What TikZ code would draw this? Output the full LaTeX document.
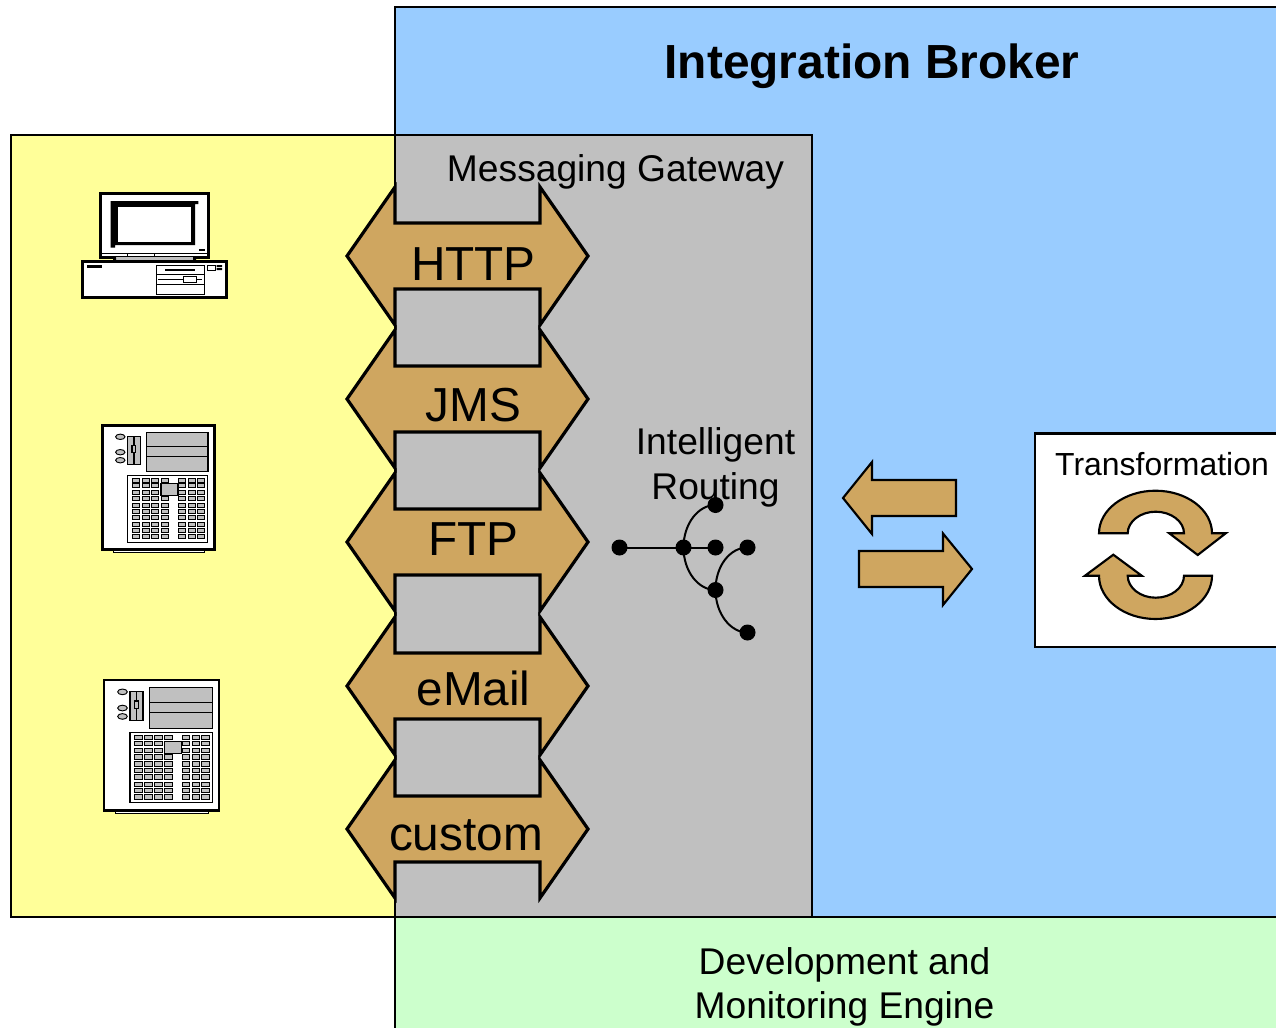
\documentclass[tikz,border=0pt]{standalone}
\usepackage{fontspec}
\setmainfont{Liberation Sans}
\definecolor{yel}{HTML}{FFFF99}
\definecolor{blu}{HTML}{99CCFF}
\definecolor{gry}{HTML}{C0C0C0}
\definecolor{tan1}{HTML}{CFA660}
\definecolor{grn}{HTML}{CCFFCC}
\tikzset{
  region/.style={draw=black,line width=1.7pt},
  lbl/.style={anchor=base,inner sep=0pt,outer sep=0pt,align=center},
  big/.style={lbl,font=\fontsize{35.8}{40}\selectfont},
  mid/.style={lbl,font=\fontsize{27.9}{32}\selectfont},
  tanshape/.style={draw=black,fill=tan1,line width=2.4pt,line join=miter},
  tanthin/.style={draw=black,fill=tan1,line width=1.6pt,line join=miter},
  dot/.style={circle,fill=black,draw=none,minimum size=12pt,inner sep=0pt},
  wire/.style={draw=black,line width=1.5pt},
  dblarrow/.pic={
    \draw[tanshape] (347,0) -- (395,-69) -- (395,-33) -- (540,-33) -- (540,-69) -- (588,0)
      -- (540,69) -- (540,33) -- (395,33) -- (395,69) -- cycle;
  },
  servericon/.pic={
    \fill[white] (10.7,124) rectangle (102,127);
    \draw[line width=.6pt] (10.7,124) rectangle (102,127);
    \draw[fill=white,line width=2pt] (0,0) rectangle (112,124);
    \foreach \yy in {11.3,26.7,34.7}
      \draw[fill=gry,line width=.7pt] (18,\yy) ellipse [x radius=4.7,y radius=2.7];
    \draw[fill=gry,line width=.8pt] (25.3,10.7) rectangle (38,39);
    \draw[line width=.8pt] (31.7,10.7) -- (31.7,39);
    \draw[fill=gry,line width=.8pt] (29.7,20) rectangle (33.3,27.3);
    \draw[fill=gry,line width=.8pt] (44,6.7) rectangle (105.7,46);
    \draw[line width=.8pt] (44,21) -- (105.7,21) (44,31.3) -- (105.7,31.3);
    \draw[fill=white,line width=.8pt] (25.3,50) rectangle (105.3,116.7);
    \foreach \yy in {52.7,58.3,65.3,71.3,78,84,90.3,97.3,103.3,109.3}
      \foreach \xx in {29.7,39.7,49.3,59,76,86,95.3}
        \draw[fill=gry,line width=.7pt] (\xx,\yy) rectangle +(7.3,4);
    \draw[fill=gry,line width=.8pt] (58.7,58.3) rectangle (75.7,70);
  }
}
\begin{document}
\begin{tikzpicture}[x=0.75pt,y=-0.75pt]
\useasboundingbox (0,0) rectangle (1276,1027);
\clip (0,0) rectangle (1276,1027);
% regions
\fill[white] (0,0) rectangle (1276,1027);
\draw[region,fill=blu] (395,7) rectangle (1285,917);
\draw[region,fill=yel] (11,135) rectangle (395,917);
\draw[region,fill=gry] (395,135) rectangle (812,917);
\draw[region,fill=grn] (395,917) rectangle (1285,1040);
% protocol arrows
\foreach \yy in {256,399,542,686,829}
  \pic at (0,\yy) {dblarrow};
% labels
\node[lbl,font=\fontsize{35.9}{40}\selectfont\bfseries] (title) at (872,79) {Integration Broker};
\node[mid] (gateway) at (615.5,181) {Messaging Gateway};
\node[big] (http) at (473.5,280) {HTTP};
\node[big] (jms) at (473.5,421) {JMS};
\node[big] (ftp) at (473.5,555) {FTP};
\node[big] (email) at (473.5,705) {eMail};
\node[big] (custom) at (466,850) {custom};
\node[mid] (intel) at (715.5,454) {Intelligent};
\node[mid] (routing) at (715.5,499) {Routing};
\node[mid] (dev) at (844.5,974) {Development and};
\node[mid] (mon) at (844.5,1018) {Monitoring Engine};
% routing tree
\node[dot] (r0) at (619.5,547.5) {};
\node[dot] (r1) at (683.5,547.5) {};
\node[dot] (r2) at (715.5,547.5) {};
\node[dot] (r3) at (747.5,547.5) {};
\node[dot] (r4) at (715.5,505) {};
\node[dot] (r5) at (715.5,590) {};
\node[dot] (r6) at (747.5,632.5) {};
\draw[wire] (r0.center) -- (r1.center) -- (r2.center);
\draw[wire] (r1.center) .. controls (683.5,524) and (698,505) .. (r4.center);
\draw[wire] (r1.center) .. controls (683.5,571) and (698,590) .. (r5.center);
\draw[wire] (r5.center) .. controls (715.5,566) and (730,547.5) .. (r3.center);
\draw[wire] (r5.center) .. controls (715.5,613) and (730,632.5) .. (r6.center);
% exchange arrows
\draw[tanshape,line width=1.6pt] (843,498) -- (872,462) -- (872,480) -- (956,480) -- (956,516) -- (872,516) -- (872,534) -- cycle;
\draw[tanshape,line width=1.6pt] (972,569) -- (943,533.5) -- (943,551) -- (859,551) -- (859,587) -- (943,587) -- (943,605) -- cycle;
% transformation
\draw[region,fill=white] (1035,433.5) rectangle (1285,647);
\node[lbl,font=\fontsize{23.95}{28}\selectfont] (transf) at (1162,475) {Transformation};
\draw[tanthin] (1099,533.3) .. controls (1099,509.8) and (1124.3,490.7) .. (1155.5,490.7)
  .. controls (1186.7,490.7) and (1212,509.8) .. (1212,533.3)
  -- (1225.7,533.3) -- (1197.7,555) -- (1169.3,533.3) -- (1184,533.3)
  .. controls (1184,521.4) and (1171.1,511.7) .. (1155.7,511.7)
  .. controls (1140.4,511.7) and (1127.7,521.4) .. (1127.7,533.3) -- cycle;
\draw[tanthin] (1212,575.7) .. controls (1212,599.6) and (1186.7,619) .. (1155.5,619)
  .. controls (1124.3,619) and (1099,599.6) .. (1099,575.7)
  -- (1085,575.7) -- (1113.3,554.7) -- (1141.7,575.7) -- (1127.7,575.7)
  .. controls (1127.7,587.8) and (1140.4,597.7) .. (1155.7,597.7)
  .. controls (1171.1,597.7) and (1184,587.8) .. (1184,575.7) -- cycle;
% desktop computer
\draw[fill=white,line width=2pt] (100.7,193.8) rectangle (208.3,257.3);
\fill[black] (110.7,201) -- (198.3,201) -- (198.3,204) -- (195,204) -- (195,245) -- (115,245) -- (115,247.7) -- (110.7,247.7) -- cycle;
\fill[white] (118.3,206.7) rectangle (190.7,241.7);
\draw[line width=.7pt] (100.7,253.3) -- (208.3,253.3) (127.3,253.3) -- (127.3,257.3) (154.7,253.3) -- (154.7,257.3);
\fill[black] (199.3,249) rectangle (205,251);
\fill[gry] (116,257.3) rectangle (193,261);
\fill[black] (113,257.3) rectangle (116,261) (193,257.3) rectangle (196,261);
\draw[fill=white,line width=2pt] (82.7,261.5) rectangle (226.2,297.3);
\fill[black] (86.7,265) rectangle (101.7,268.3);
\draw[line width=.7pt] (156.7,265) rectangle (204,294);
\draw[line width=.7pt] (156.7,274) -- (204,274) (156.7,284) -- (204,284);
\fill[black] (165,268.7) rectangle (195,271.3);
\draw[line width=.7pt] (158.3,279.3) -- (201.7,279.3);
\draw[fill=white,line width=.7pt] (183.3,276.3) rectangle (196.7,282.3);
\draw[line width=.6pt] (207.7,265) rectangle (215,270);
\fill[black] (216.7,265) rectangle (222,267) (216.7,268) rectangle (222,270);
% servers
\pic at (102.3,425.5) {servericon};
\pic[xscale=1.027,yscale=1.05] at (104,680) {servericon};
\end{tikzpicture}
\end{document}
